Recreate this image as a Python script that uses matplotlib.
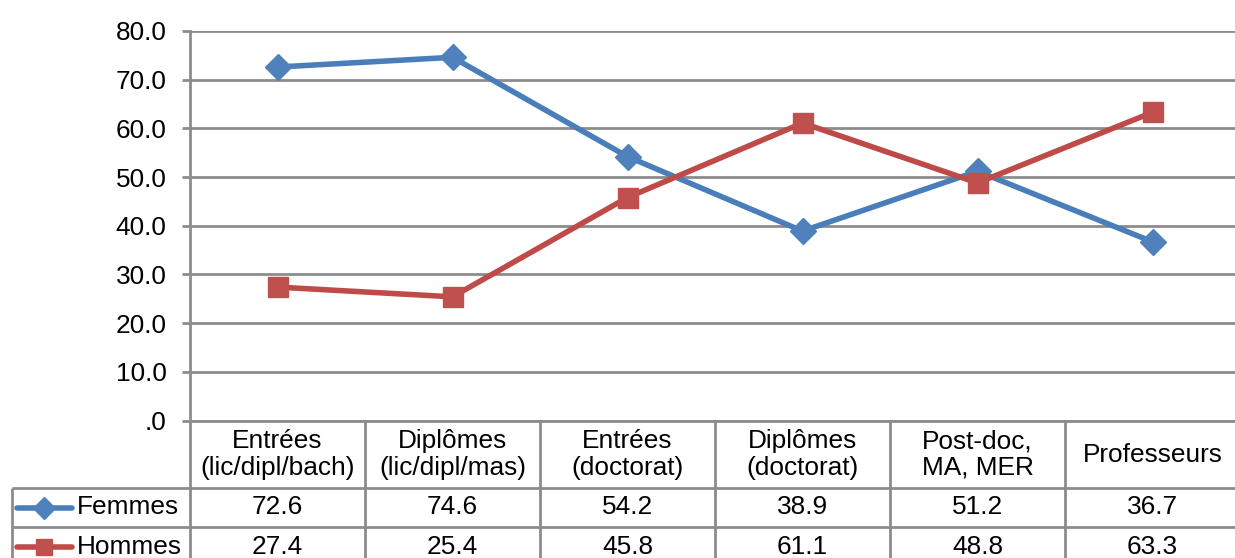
import matplotlib.pyplot as plt
import matplotlib.ticker as mticker

plt.rcParams['font.family'] = ['Liberation Sans', 'DejaVu Sans']

categories = ["Entrées\n(lic/dipl/bach)", "Diplômes\n(lic/dipl/mas)", "Entrées\n(doctorat)",
              "Diplômes\n(doctorat)", "Post-doc,\nMA, MER", "Professeurs"]
femmes = [72.6, 74.6, 54.2, 38.9, 51.2, 36.7]
hommes = [27.4, 25.4, 45.8, 61.1, 48.8, 63.3]
series = [("Femmes", femmes, "#4A7EBB", "#4F81BD", "D", 13.5),
          ("Hommes", hommes, "#BE4B48", "#C0504D", "s", 14)]
yticks = [0, 10, 20, 30, 40, 50, 60, 70, 80]

W, H = 1235, 558
grid_col = "#8C8C8C"
fs = 18.9

fig = plt.figure(figsize=(W / 100, H / 100), dpi=100)

# plot area: columns are 175 px wide starting at x=190
left, right = 190, 1240
top, bottom = 31, 420.5
ax = fig.add_axes([left / W, 1 - bottom / H, (right - left) / W, (bottom - top) / H])
xs = [i + 0.5 for i in range(len(categories))]

for name, vals, lc, mc, mk, ms in series:
    ax.plot(xs, vals, color=lc, lw=4, marker=mk, ms=ms, mfc=mc, mec=mc, mew=1,
            solid_joinstyle="round", zorder=3)

ax.set_xlim(0, 6)
ax.set_ylim(0, 80)
ax.set_yticks(yticks)
ax.yaxis.set_major_formatter(mticker.FuncFormatter(
    lambda v, p: ("%.1f" % v).lstrip("0") if v < 1 else "%.1f" % v))
ax.set_xticks([])
ax.grid(axis="y", color=grid_col, lw=2)
ax.set_axisbelow(True)
for s in ["top", "right", "bottom"]:
    ax.spines[s].set_visible(False)
ax.spines["left"].set_color(grid_col)
ax.spines["left"].set_linewidth(2)
ax.tick_params(axis="y", direction="out", length=6, width=2, color=grid_col,
               pad=11, labelsize=fs)

# data table under the plot, y measured in px from the plot bottom
tab_h = 146
tax = fig.add_axes([left / W, 1 - (bottom + tab_h) / H, (right - left) / W, tab_h / H])
tax.set_xlim(0, 6)
tax.set_ylim(tab_h, 0)
tax.axis("off")

leg_x = (12 - left) / 175
row_y = [67.5, 106.5, 146]
lkw = dict(color=grid_col, lw=2, clip_on=False, solid_capstyle="butt")
tax.plot([0, 6], [0, 0], **lkw)
for y in row_y:
    tax.plot([leg_x, 6], [y, y], **lkw)
tax.plot([leg_x, leg_x], [row_y[0], tab_h], **lkw)
for i in range(7):
    tax.plot([i, i], [0, tab_h], **lkw)

for x, c in zip(xs, categories):
    tax.text(x, 34, c, ha="center", va="center", fontsize=fs, linespacing=1.15)

row_c = [87, 126]
for (name, vals, lc, mc, mk, ms), yc in zip(series, row_c):
    tax.plot([(17 - left) / 175, (72 - left) / 175], [yc, yc], color=lc, lw=4,
             solid_capstyle="round", clip_on=False)
    tax.plot([(44 - left) / 175], [yc], marker=mk, ms=ms * 0.8, mfc=mc, mec=mc,
             mew=1, clip_on=False)
    tax.text((77 - left) / 175, yc, name, ha="left", va="center", fontsize=fs)
    for x, v in zip(xs, vals):
        tax.text(x, yc, "%.1f" % v, ha="center", va="center", fontsize=fs)

fig.savefig("out.png", dpi=100)
